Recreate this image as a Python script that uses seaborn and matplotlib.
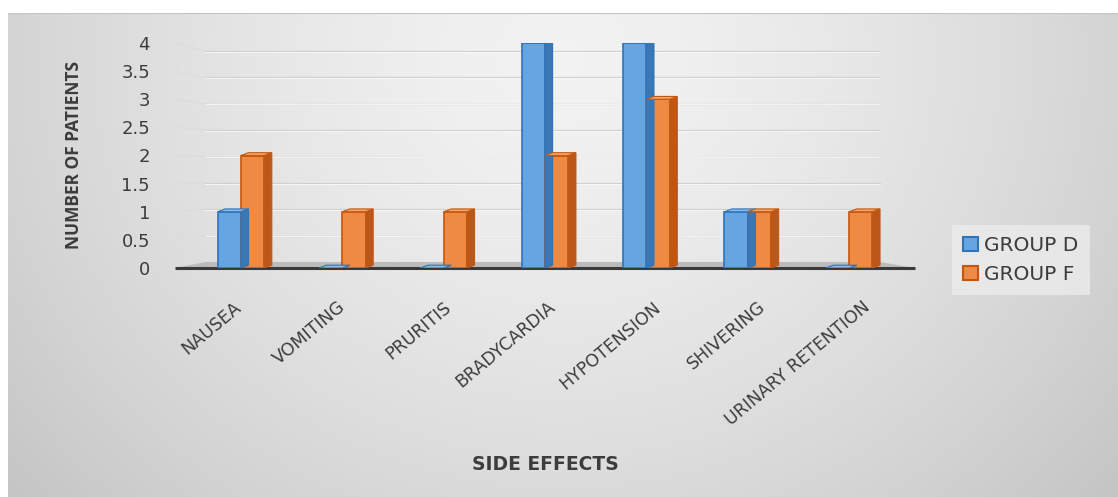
import numpy as np
import pandas as pd
import matplotlib
matplotlib.use("Agg")
import matplotlib.pyplot as plt
from matplotlib.patches import Polygon
import seaborn as sns

# Side effect counts per group
side_effects = ["NAUSEA", "VOMITING", "PRURITIS", "BRADYCARDIA",
                "HYPOTENSION", "SHIVERING", "URINARY RETENTION"]
group_d = [1, 0, 0, 4, 4, 1, 0]
group_f = [2, 1, 1, 2, 3, 1, 1]
groups = ["GROUP D", "GROUP F"]
y_ticks = [0, 0.5, 1, 1.5, 2, 2.5, 3, 3.5, 4]

df = pd.DataFrame({
    "side": side_effects * 2,
    "n": group_d + group_f,
    "group": [groups[0]] * len(side_effects) + [groups[1]] * len(side_effects),
})

sns.set_theme(style="white")
plt.rcParams["font.family"] = ["DejaVu Sans"]

face = {"GROUP D": "#66a5e0", "GROUP F": "#ef8a43"}
edge = {"GROUP D": "#2f73b8", "GROUP F": "#c4570f"}
side_col = {"GROUP D": "#3a78b5", "GROUP F": "#b9581a"}
top_col = {"GROUP D": "#8cbcea", "GROUP F": "#f5a66e"}
text_col = "#3c3c3c"

W, H = 1118, 497
fig = plt.figure(figsize=(W / 100, H / 100), dpi=100)
fig.patch.set_facecolor("white")

# soft radial gray gradient panel behind the chart
bg = fig.add_axes([8 / W, 0, 1 - 8 / W, (H - 13) / H], zorder=-5)
yy, xx = np.mgrid[0:1:200j, 0:1:400j]
d = np.sqrt(((xx - 0.5) / 0.6) ** 2 + ((yy - 0.9) / 1.25) ** 2)
shade = 0.95 - 0.155 * np.clip(d, 0, 1.15) ** 1.5
bg.imshow(np.dstack([shade] * 3), extent=[0, 1, 0, 1], aspect="auto",
          origin="lower", interpolation="bilinear")
bg.axhline(1, color="#c4c4c4", lw=1.5)
bg.set_axis_off()

ax = fig.add_axes([175 / W, (H - 268) / H, 740 / W, 225 / H])
ax.set_facecolor("none")

sns.barplot(data=df, x="side", y="n", hue="group", order=side_effects,
            hue_order=groups, palette=face, width=0.46, saturation=1,
            ax=ax, legend=False, zorder=3)

x_lo, x_hi = -0.65, 6.65
ax.set_xlim(x_lo, x_hi)
ax.set_ylim(0, 4)

# perspective of the back wall: its scale is a little smaller than the front
wall_x0, wall_x1 = -0.35, 6.30
wall_b, wall_s = 0.107, 0.9375

for t in y_ticks[1:]:
    yw = wall_b + wall_s * t
    ax.plot([wall_x0, wall_x1], [yw, yw], color="#d0d0d0", lw=0.9, zorder=1)
    ax.plot([wall_x0, wall_x1], [yw - 0.012, yw - 0.012], color="#fafafa",
            lw=0.6, zorder=1)
    # side wall lines running back to the rear wall
    ax.plot([x_lo, wall_x0], [t, yw], color="#dcdcdc", lw=0.9, zorder=1,
            clip_on=False)

# floor of the plot
ax.add_patch(Polygon([(x_lo, 0), (x_hi, 0), (wall_x1, wall_b), (wall_x0, wall_b)],
                     closed=True, facecolor="#bcbcbc", edgecolor="none",
                     zorder=2, clip_on=False))
ax.plot([x_lo, x_hi], [0, 0], color="#3a3a3a", lw=2.2, zorder=2,
        solid_capstyle="butt", clip_on=False)

# give each bar a top and a side face
dx, dy = 0.075, 0.05
for patch, grp in zip(ax.patches, [g for g in groups for _ in side_effects]):
    x0, w, h = patch.get_x(), patch.get_width(), patch.get_height()
    patch.set_edgecolor(edge[grp])
    patch.set_linewidth(1.2)
    ax.add_patch(Polygon([(x0 + w, 0), (x0 + w + dx, dy), (x0 + w + dx, h + dy),
                          (x0 + w, h)], closed=True, facecolor=side_col[grp],
                         edgecolor=edge[grp], lw=0.8, zorder=3))
    ax.add_patch(Polygon([(x0, h), (x0 + dx, h + dy), (x0 + w + dx, h + dy),
                          (x0 + w, h)], closed=True, facecolor=top_col[grp],
                         edgecolor=edge[grp], lw=0.8, zorder=4))

for s in ax.spines.values():
    s.set_visible(False)
ax.set_yticks(y_ticks)
ax.set_yticklabels([f"{t:g}" for t in y_ticks], fontsize=13, color=text_col)
ax.tick_params(axis="y", length=0, pad=18)
ax.set_xticks([])
ax.set_xlabel("")
ax.set_ylabel("")

# category names sit along the front edge of the floor
for i, name in enumerate(side_effects):
    fig.text((233 + 104.8 * i) / W, 1 - 298 / H, name, rotation=40,
             ha="right", va="top", rotation_mode="anchor",
             fontsize=12.5, color=text_col)

fig.text(545 / W, 1 - 465 / H, "SIDE EFFECTS", ha="center", va="center",
         fontsize=13.5, fontweight="bold", color=text_col)
fig.text(74 / W, 1 - 155 / H, "NUMBER OF PATIENTS", rotation=90,
         ha="center", va="center", fontsize=12.5, fontweight="bold",
         color=text_col, family=["Open Sans", "DejaVu Sans"])

# legend
handles = [plt.Rectangle((0, 0), 1, 1, facecolor=face[g], edgecolor=edge[g], lw=1.5)
           for g in groups]
leg = fig.legend(handles, groups, loc="center left",
                 bbox_to_anchor=(952 / W, 1 - 260 / H),
                 frameon=True, fontsize=14.5, handlelength=0.75, handleheight=0.75,
                 handletextpad=0.3, labelspacing=0.5, borderpad=0.55,
                 borderaxespad=0)
leg.get_frame().set_facecolor("#ececec")
leg.get_frame().set_edgecolor("none")
leg.get_frame().set_boxstyle("square", pad=0)
for txt in leg.get_texts():
    txt.set_color(text_col)

fig.savefig("out.png", dpi=100)
